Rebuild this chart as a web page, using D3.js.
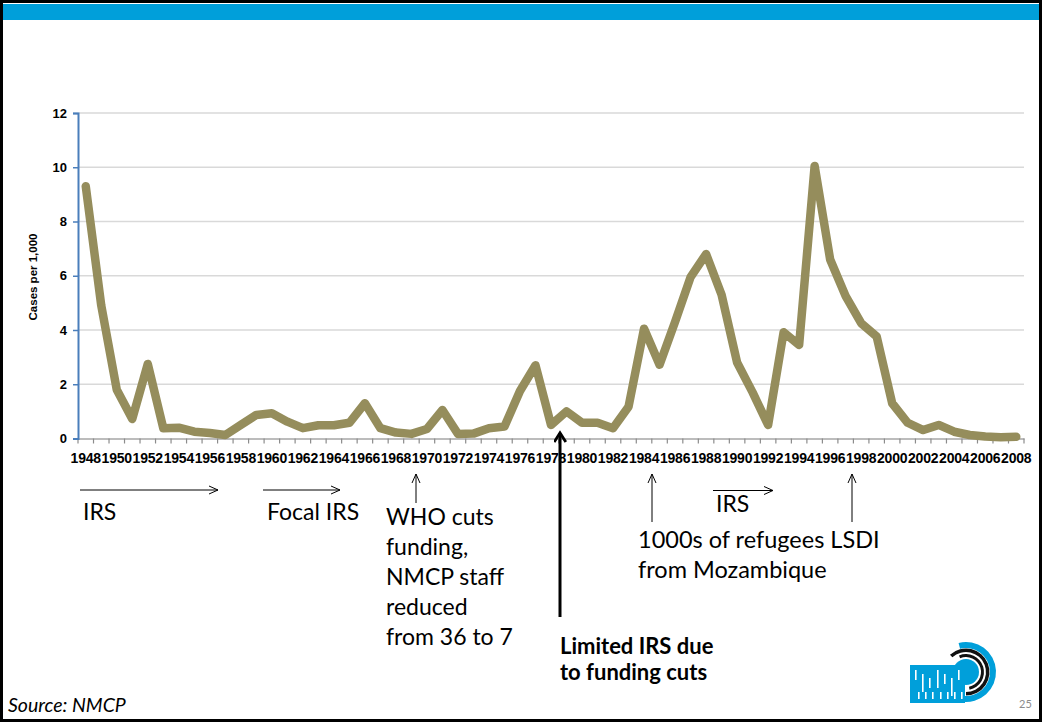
<!DOCTYPE html>
<html>
<head>
<meta charset="utf-8">
<script src="https://cdn.jsdelivr.net/npm/d3@7/dist/d3.min.js"></script>
<style>
  body { margin: 0; background: #fff; }
  svg { display: block; }
</style>
</head>
<body>
<svg id="chart" width="1042" height="722"></svg>
<script>
// ---- data ----
const years = d3.range(1948, 2009);
const cases = [
  9.3, 4.9, 1.8, 0.72, 2.75, 0.38, 0.4, 0.25, 0.2, 0.13,
  0.5, 0.87, 0.93, 0.62, 0.38, 0.49, 0.49, 0.58, 1.3, 0.38,
  0.22, 0.17, 0.35, 1.05, 0.17, 0.18, 0.38, 0.44, 1.75, 2.7,
  0.5, 1.0, 0.58, 0.58, 0.38, 1.17, 4.05, 2.72, 4.3, 5.95,
  6.8, 5.3, 2.8, 1.7, 0.5, 3.92, 3.45, 10.05, 6.6, 5.25,
  4.25, 3.76, 1.3, 0.58, 0.31, 0.5, 0.25, 0.13, 0.07, 0.05,
  0.06
];
const yTicks = [0, 2, 4, 6, 8, 10, 12];
const xTickLabels = years.filter(y => (y - 1948) % 2 === 0);
const yTitle = "Cases per 1,000";

const svg = d3.select("#chart");

// ---- slide frame ----
svg.append("rect").attr("x", 1.5).attr("y", 1.5).attr("width", 1039).attr("height", 719)
  .attr("fill", "#fff").attr("stroke", "#000").attr("stroke-width", 3);
svg.append("rect").attr("x", 3).attr("y", 4).attr("width", 1036).attr("height", 16)
  .attr("fill", "#009FDA");

// ---- scales ----
const x = d3.scaleBand().domain(years).range([78, 1024]).paddingInner(0).paddingOuter(0);
const y = d3.scaleLinear().domain([0, 12]).range([438.5, 113]);
const cx = d => x(d) + x.bandwidth() / 2;

// gridlines
svg.append("g").selectAll("line").data(yTicks.filter(t => t > 0)).join("line")
  .attr("x1", 78).attr("x2", 1024)
  .attr("y1", d => y(d)).attr("y2", d => y(d))
  .attr("stroke", "#d9d9d9").attr("stroke-width", 1.5);

// x axis
const xAxis = d3.axisBottom(x).tickValues(xTickLabels).tickSize(0).tickPadding(15);
const gx = svg.append("g").attr("transform", "translate(0,438.5)").call(xAxis);
gx.attr("font-size", null).attr("font-family", null);
gx.select(".domain").attr("stroke", "#a6a6a6").attr("stroke-width", 1.5);
gx.selectAll("text")
  .style("font-family", "'Liberation Sans', Arial, sans-serif")
  .style("font-weight", "bold").style("font-size", "14px").attr("fill", "#000")
  .style("letter-spacing", "-0.2px");
// category boundary tick marks
svg.append("g").selectAll("line").data(years.concat([2009])).join("line")
  .attr("x1", d => d === 2009 ? 1024 : x(d)).attr("x2", d => d === 2009 ? 1024 : x(d))
  .attr("y1", 438.5).attr("y2", 443.5)
  .attr("stroke", "#8c8c8c").attr("stroke-width", 1.2);

// y axis
const yAxis = d3.axisLeft(y).tickValues(yTicks).tickSize(5).tickPadding(6);
const gy = svg.append("g").attr("transform", "translate(78,0)").call(yAxis);
gy.attr("font-size", null).attr("font-family", null);
gy.select(".domain").attr("stroke", "#4a7ebb").attr("stroke-width", 2);
gy.selectAll(".tick line").attr("stroke", "#4a7ebb").attr("stroke-width", 1.5);
gy.selectAll("text")
  .style("font-family", "'Liberation Sans', Arial, sans-serif")
  .style("font-weight", "bold").style("font-size", "13px").attr("fill", "#000");

svg.append("text")
  .attr("transform", "translate(37,277) rotate(-90)")
  .attr("text-anchor", "middle")
  .style("font-family", "'Liberation Sans', Arial, sans-serif")
  .style("font-weight", "bold").style("font-size", "11.5px")
  .text(yTitle);

// data line
const line = d3.line().x((d, i) => cx(years[i])).y(d => y(d));
svg.append("path").datum(cases)
  .attr("d", line)
  .attr("fill", "none")
  .attr("stroke", "#958d5c")
  .attr("stroke-width", 8.5)
  .attr("stroke-linejoin", "round")
  .attr("stroke-linecap", "round");

// ---- annotations ----
const defs = svg.append("defs");
defs.append("marker").attr("id", "open").attr("viewBox", "0 0 10 10")
  .attr("refX", 9).attr("refY", 5).attr("markerWidth", 10).attr("markerHeight", 10)
  .attr("markerUnits", "userSpaceOnUse").attr("orient", "auto")
  .append("path").attr("d", "M0,1 L9,5 L0,9").attr("fill", "none")
  .attr("stroke", "#000").attr("stroke-width", 1);
defs.append("marker").attr("id", "bold").attr("viewBox", "0 0 10 10")
  .attr("refX", 8).attr("refY", 5).attr("markerWidth", 13).attr("markerHeight", 13)
  .attr("markerUnits", "userSpaceOnUse").attr("orient", "auto")
  .append("path").attr("d", "M1,0.5 L8,5 L1,9.5").attr("fill", "none")
  .attr("stroke", "#000").attr("stroke-width", 2.2);

function arrow(x1, y1, x2, y2, w, m) {
  svg.append("line").attr("x1", x1).attr("y1", y1).attr("x2", x2).attr("y2", y2)
    .attr("stroke", "#000").attr("stroke-width", w).attr("marker-end", "url(#" + m + ")");
}
arrow(80, 490, 218, 490, 1, "open");
arrow(263, 490, 340, 490, 1, "open");
arrow(416, 503, 416, 474, 1, "open");
arrow(713, 490.5, 773, 490.5, 1, "open");
arrow(652, 522, 652, 474, 1, "open");
arrow(852, 522, 852, 474, 1, "open");
arrow(560, 617, 560, 433, 3, "bold");

const FONT = "Lato, 'Open Sans', sans-serif";
function label(tx, ty, lines, opts = {}) {
  const t = svg.append("text").attr("x", tx).attr("y", ty)
    .style("font-family", FONT).style("font-size", (opts.size || 23) + "px")
    .style("font-weight", opts.weight || "normal")
    .style("font-style", opts.style || "normal")
    .attr("fill", "#000");
  lines.forEach((s, i) => t.append("tspan").attr("x", tx).attr("dy", i === 0 ? 0 : (opts.lh || 30)).text(s));
}
label(83, 520, ["IRS"]);
label(267, 520, ["Focal IRS"]);
label(386, 525, ["WHO cuts", "funding,", "NMCP staff", "reduced", "from 36 to 7"], { lh: 30 });
label(716, 512, ["IRS"]);
label(638, 548, ["1000s of refugees LSDI", "from Mozambique"], { lh: 30, size: 23.5 });
label(560, 654, ["Limited IRS due"], { weight: "bold", size: 22 });
label(560, 680, ["to funding cuts"], { weight: "bold", size: 22 });
label(8, 712, ["Source: NMCP"], { style: "italic", size: 19.5 });

svg.append("text").attr("x", 1019).attr("y", 708).style("font-family", FONT)
  .style("font-size", "11px").attr("fill", "#8c8c8c").text("25");

// ---- logo (approximate) ----
const logo = svg.append("g");
const lc = [966, 672];
logo.append("path").attr("transform", `translate(${lc})`)
  .attr("d", d3.arc()({ innerRadius: 24, outerRadius: 30, startAngle: -0.25, endAngle: Math.PI + 0.15 }))
  .attr("fill", "#009FDA");
logo.append("path").attr("transform", `translate(${lc})`)
  .attr("d", d3.arc()({ innerRadius: 20, outerRadius: 23.5, startAngle: -0.75, endAngle: Math.PI }))
  .attr("fill", "#111");
logo.append("path").attr("transform", `translate(${lc})`)
  .attr("d", d3.arc()({ innerRadius: 15, outerRadius: 18, startAngle: -0.4, endAngle: Math.PI - 0.2 }))
  .attr("fill", "#111");
logo.append("circle").attr("cx", lc[0]).attr("cy", lc[1]).attr("r", 13).attr("fill", "#009FDA");
logo.append("rect").attr("x", 910).attr("y", 665).attr("width", 55).attr("height", 38).attr("fill", "#009FDA");
const stripes = [915, 922, 929, 937, 944, 951, 958];
logo.selectAll(".s").data(stripes).join("rect")
  .attr("x", d => d).attr("y", (d, i) => 670 + (i % 3) * 4)
  .attr("width", 1.6).attr("height", (d, i) => 10 + (i % 2) * 8).attr("fill", "#fff");
logo.selectAll(".s2").data(stripes).join("rect")
  .attr("x", d => d + 3).attr("y", 692)
  .attr("width", 1.6).attr("height", 7).attr("fill", "#fff");
</script>
</body>
</html>
